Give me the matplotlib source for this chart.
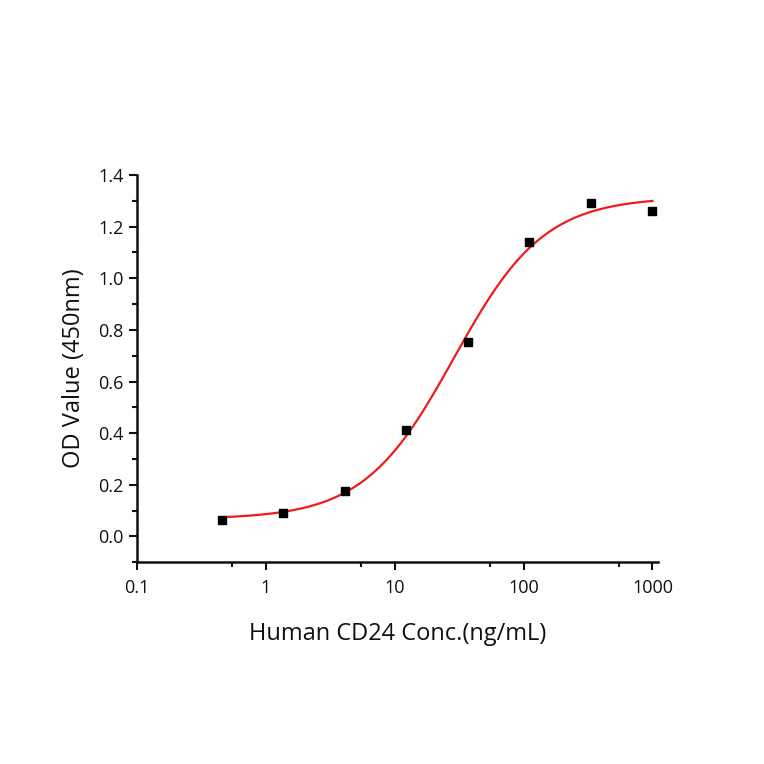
import numpy as np
import matplotlib
matplotlib.use("Agg")
import matplotlib.pyplot as plt
from matplotlib.ticker import FixedLocator, NullFormatter, MultipleLocator

conc = [0.457, 1.372, 4.115, 12.35, 37.04, 111.1, 333.3, 1000.0]
od = [0.065, 0.092, 0.178, 0.411, 0.753, 1.141, 1.292, 1.260]
x_ticks = [0.1, 1, 10, 100, 1000]
x_tick_labels = ["0.1", "1", "10", "100", "1000"]
y_ticks = [0.0, 0.2, 0.4, 0.6, 0.8, 1.0, 1.2, 1.4]

plt.rcParams['font.family'] = ['Open Sans', 'DejaVu Sans']

# 4-parameter logistic fit (grid over EC50 and Hill slope, linear solve for bottom/top)
xd = np.array(conc)
yd = np.array(od)
best = None
for lx0 in np.linspace(0.5, 2.5, 401):
    for p in np.linspace(0.5, 2.5, 201):
        f = 1.0 / (1.0 + (xd / 10**lx0) ** p)
        A = np.column_stack([f, 1 - f])
        coef, *_ = np.linalg.lstsq(A, yd, rcond=None)
        r = np.sum((A @ coef - yd) ** 2)
        if best is None or r < best[0]:
            best = (r, lx0, p, coef)
_, lx0, p, (bottom, top) = best
xf = np.logspace(np.log10(conc[0]), np.log10(conc[-1]), 300)
yf = top + (bottom - top) / (1 + (xf / 10**lx0) ** p)

fig = plt.figure(figsize=(7.64, 7.64), dpi=100)
ax = fig.add_axes([0.179, 0.264, 0.682, 0.507])
ax.plot(xf, yf, color='#ee1c1c', lw=1.6, zorder=2)
ax.scatter(conc, od, marker='s', s=40, color='black', zorder=3)
ax.set_xscale('log')
ax.set_xlim(0.1, 1100)
ax.set_ylim(-0.1, 1.4)
ax.xaxis.set_major_locator(FixedLocator(x_ticks))
ax.set_xticklabels(x_tick_labels)
ax.xaxis.set_minor_locator(FixedLocator([0.55, 5.5, 55, 550]))
ax.xaxis.set_minor_formatter(NullFormatter())
ax.set_yticks(y_ticks)
ax.set_yticklabels([f"{v:.1f}" for v in y_ticks])
ax.yaxis.set_minor_locator(MultipleLocator(0.1))
for s in ['top', 'right']:
    ax.spines[s].set_visible(False)
for s in ['left', 'bottom']:
    ax.spines[s].set_linewidth(1.8)
    ax.spines[s].set_color('#111111')
ax.spines['left'].set_bounds(-0.1, 1.4)
ax.tick_params(which='major', direction='out', length=6, width=1.5, labelsize=13, colors='#111111')
ax.tick_params(which='minor', direction='out', length=3.5, width=1.5, colors='#111111')
ax.tick_params(axis='x', pad=6)
ax.set_xlabel('Human CD24 Conc.(ng/mL)', fontsize=17, labelpad=18, color='#111111')
ax.set_ylabel('OD Value (450nm)', fontsize=17, labelpad=9, color='#111111')
fig.savefig('out.png', dpi=100)
